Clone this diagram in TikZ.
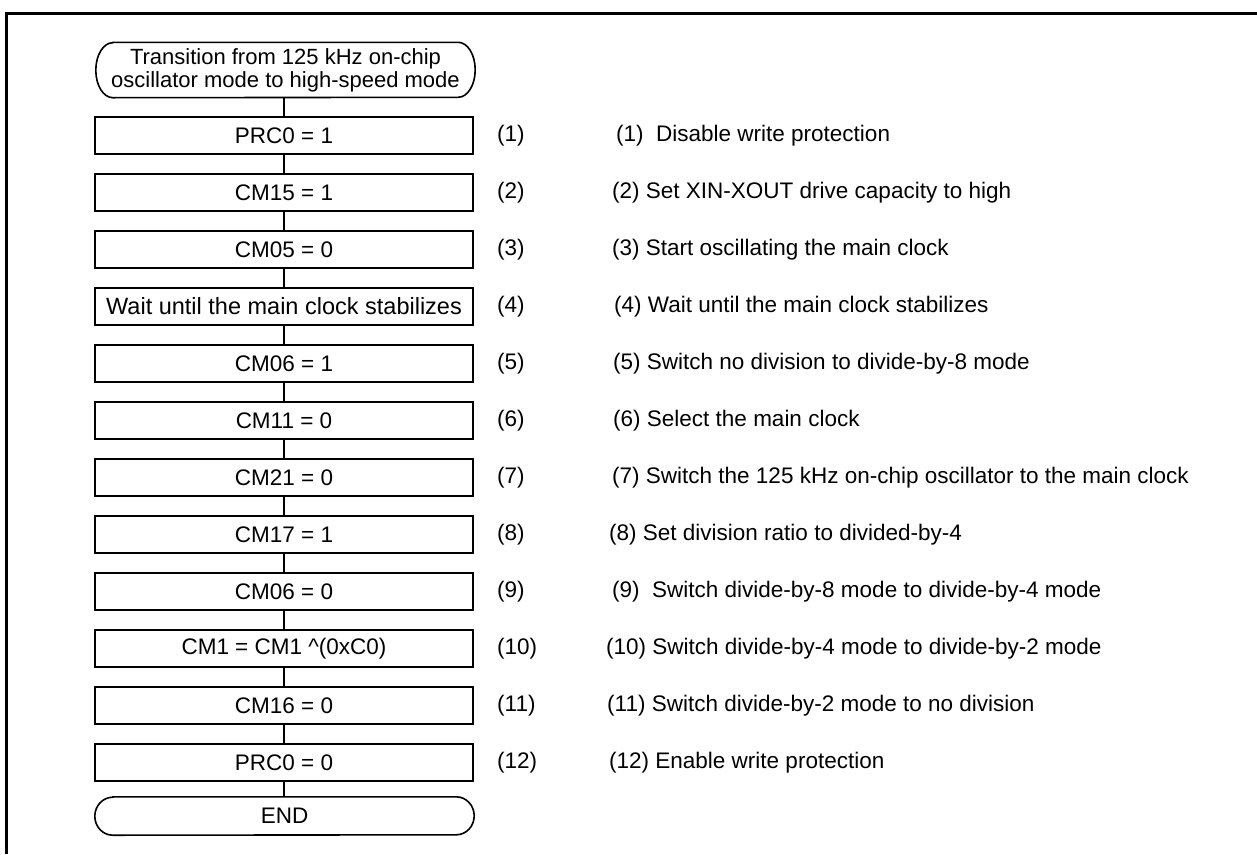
\documentclass[tikz,border=0pt]{standalone}
\usepackage{fontspec}
\setmainfont{Liberation Sans}
\begin{document}
\begin{tikzpicture}[x=1pt,y=-1pt,
  every node/.style={font=\fontsize{22.5}{23}\selectfont, inner sep=0pt},
  stepbox/.style={draw, line width=1.6pt, minimum width=378pt, minimum height=37pt, anchor=center},
  numlbl/.style={anchor=west},
  desc/.style={anchor=west},
  conn/.style={line width=1.6pt},
  term/.style={line width=1.6pt}]
\useasboundingbox (0,0) rectangle (1257,854);
\fill[white] (0,0) rectangle (1257,854);
% frame (top and left only)
\draw[line width=3pt] (1257,13) -- (6,13) -- (6,854);
% start terminal
\node[minimum width=379pt, minimum height=55pt, align=center, font=\fontsize{22}{23}\selectfont] (start) at (285.5,70)
  {Transition from 125 kHz on-chip\\oscillator mode to high-speed mode};
\draw[term] ([xshift=17pt]start.north west) -- ([xshift=-17pt]start.north east)
  arc[start angle=90, end angle=-90, x radius=17pt, y radius=27.5pt]
  -- ([xshift=17pt]start.south west)
  arc[start angle=270, end angle=90, x radius=17pt, y radius=27.5pt] -- cycle;
% steps
\foreach \i/\t in {1/{PRC0 = 1},2/{CM15 = 1},3/{CM05 = 0},4/{\fontsize{23.5}{24}\selectfont Wait until the main clock stabilizes},
  5/{CM06 = 1},6/{CM11 = 0},7/{CM21 = 0},8/{CM17 = 1},9/{CM06 = 0},10/{CM1 = CM1 \textasciicircum(0xC0)},
  11/{CM16 = 0},12/{PRC0 = 0}}{
  \node[stepbox] (s\i) at (284,{135.5+57*(\i-1)}) {\t};
  \node[numlbl] (n\i) at (497,{136+57*(\i-1)}) {(\i)};
}
% end terminal
\node[minimum width=379pt, minimum height=38pt] (stop) at (284.5,816) {END};
\draw[term] ([xshift=18pt]stop.north west) -- ([xshift=-18pt]stop.north east)
  arc[start angle=90, end angle=-90, x radius=18pt, y radius=19pt]
  -- ([xshift=18pt]stop.south west)
  arc[start angle=270, end angle=90, x radius=18pt, y radius=19pt] -- cycle;
% connectors
\draw[conn] (start.south -| s1.north) -- (s1.north);
\foreach \i [evaluate=\i as \j using int(\i+1)] in {1,...,11}{
  \draw[conn] (s\i.south) -- (s\j.north);
}
\draw[conn] (s12.south) -- (s12.south |- stop.north);
% descriptions
\node[desc] (d1) at (616,136) {(1)\ \ Disable write protection};
\node[desc] (d2) at (612,193) {(2) Set XIN-XOUT drive capacity to high};
\node[desc] (d3) at (612,250) {(3) Start oscillating the main clock};
\node[desc] (d4) at (614,307) {(4) Wait until the main clock stabilizes};
\node[desc] (d5) at (613,364) {(5) Switch no division to divide-by-8 mode};
\node[desc] (d6) at (613,421) {(6) Select the main clock};
\node[desc] (d7) at (612,478) {(7) Switch the 125 kHz on-chip oscillator to the main clock};
\node[desc] (d8) at (609,535) {(8) Set division ratio to divided-by-4};
\node[desc] (d9) at (612,592) {(9)\ \ Switch divide-by-8 mode to divide-by-4 mode};
\node[desc] (d10) at (606,649) {(10) Switch divide-by-4 mode to divide-by-2 mode};
\node[desc] (d11) at (607,706) {(11) Switch divide-by-2 mode to no division};
\node[desc] (d12) at (609,763) {(12) Enable write protection};
\end{tikzpicture}
\end{document}
